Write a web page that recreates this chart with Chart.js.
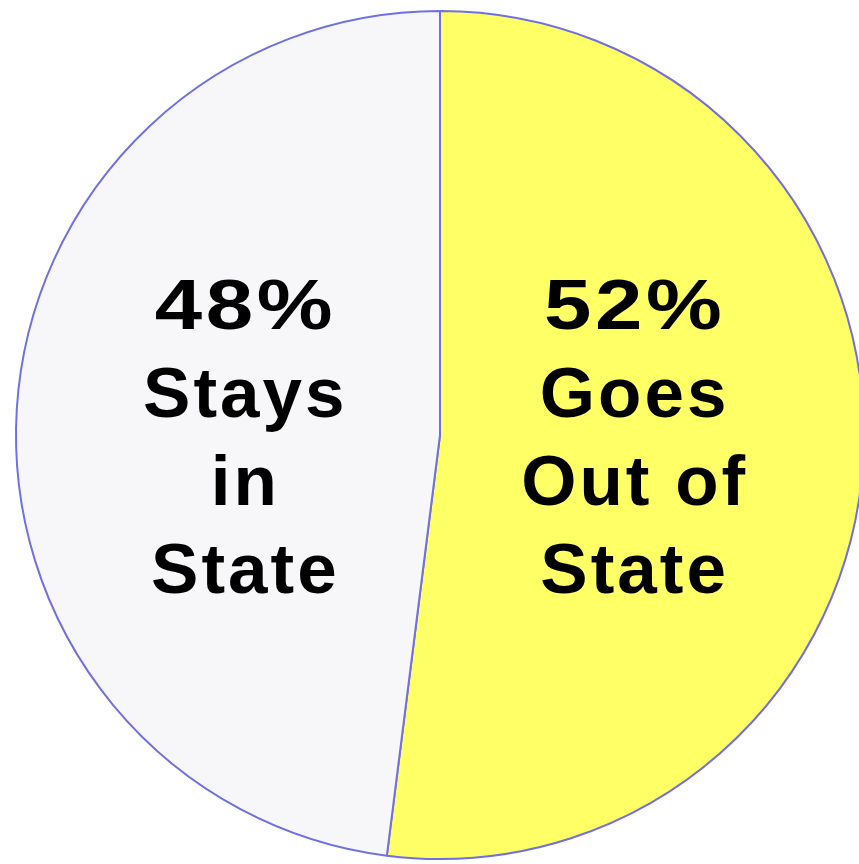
<!DOCTYPE html>
<html>
<head>
<meta charset="utf-8">
<title>Stays in State vs Goes Out of State</title>
<script src="https://cdn.jsdelivr.net/npm/chart.js@4/dist/chart.umd.min.js"></script>
<style>
  html, body { margin: 0; padding: 0; background: #fff; overflow: hidden; }
  #wrap { position: relative; width: 880px; height: 870px; }
  #pie { display: block; }
</style>
</head>
<body>
<div id="wrap"><canvas id="pie" width="880" height="870"></canvas></div>
<script>
// slice data, clockwise from 12 o'clock
var categories = ['Goes Out of State', 'Stays in State'];
var shares = [52, 48];
var labelLines = [['Goes', 'Out of', 'State'], ['Stays', 'in', 'State']];
var sliceColors = ['#ffff66', '#f7f7f9'];

(function () {
  'use strict';

  var LINE_HEIGHT = 88;
  var CAP_HEIGHT = 51;
  var PCT_STRETCH = 1.2; // the percentage line is set wider than the words

  // big centred text inside each slice: percentage on top, then the name
  var sliceText = {
    id: 'sliceText',
    afterDatasetsDraw: function (chart) {
      var ctx = chart.ctx;
      var meta = chart.getDatasetMeta(0);
      ctx.save();
      ctx.font = 'bold 71px "Liberation Sans", Arial, sans-serif';
      ctx.fillStyle = '#000';
      ctx.textAlign = 'center';
      ctx.textBaseline = 'alphabetic';
      if ('letterSpacing' in ctx) ctx.letterSpacing = '3px';
      meta.data.forEach(function (arc, i) {
        var p = arc.getProps(['x', 'y', 'startAngle', 'endAngle', 'outerRadius'], true);
        var mid = (p.startAngle + p.endAngle) / 2;
        var tx = p.x + Math.cos(mid) * p.outerRadius * 0.46;
        var lines = [shares[i] + '%'].concat(labelLines[i]);
        var first = p.y - (lines.length - 1) / 2 * LINE_HEIGHT + CAP_HEIGHT / 2;
        lines.forEach(function (line, j) {
          var ty = first + j * LINE_HEIGHT;
          if (j === 0) {
            ctx.save();
            ctx.translate(tx, ty);
            ctx.scale(PCT_STRETCH, 1);
            ctx.fillText(line, 0, 0);
            ctx.restore();
          } else {
            ctx.fillText(line, tx, ty);
          }
        });
      });
      ctx.restore();
    }
  };

  new Chart(document.getElementById('pie'), {
    type: 'pie',
    data: {
      labels: categories,
      datasets: [{
        data: shares,
        backgroundColor: sliceColors,
        borderColor: '#7070e2',
        borderWidth: 2
      }]
    },
    options: {
      responsive: false,
      animation: false,
      layout: { padding: { left: 15, right: 15, top: 10, bottom: 10 } },
      plugins: {
        legend: { display: false },
        tooltip: { enabled: false }
      }
    },
    plugins: [sliceText]
  });
})();
</script>
</body>
</html>
